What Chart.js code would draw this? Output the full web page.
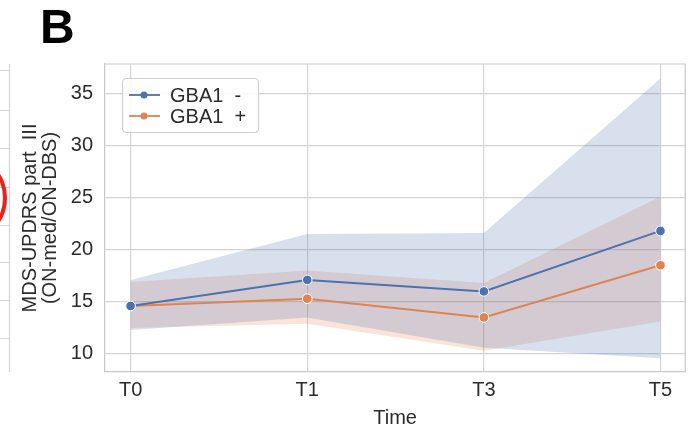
<!DOCTYPE html>
<html>
<head>
<meta charset="utf-8">
<script src="https://cdn.jsdelivr.net/npm/chart.js@4.4.1/dist/chart.umd.min.js"></script>
<style>
  html, body { margin: 0; padding: 0; background: #ffffff; }
  #wrap { width: 691px; height: 430px; position: relative; }
</style>
</head>
<body>
<div id="wrap"><canvas id="chart"></canvas></div>
<script>
/* ---------- data ---------- */
const timePoints = ['T0', 'T1', 'T3', 'T5'];

const gbaNegMean = [14.6, 17.1, 16.0, 21.8];
const gbaNegLow  = [12.3, 13.5, 10.6, 9.6];
const gbaNegHigh = [17.1, 21.5, 21.6, 36.4];

const gbaPosMean = [14.6, 15.3, 13.5, 18.5];
const gbaPosLow  = [12.5, 12.9, 10.3, 13.1];
const gbaPosHigh = [16.9, 18.0, 16.8, 25.1];

const yTicks = [10, 15, 20, 25, 30, 35];

/* ---------- style ---------- */
const FONT = '"Liberation Sans", Arial, sans-serif';
const TEXT = '#2b2b2b';
const BLUE = '#4c72b0';
const ORANGE = '#dd8452';
const GRID = '#d4d4d4';
const FRAME = '#c9c9c9';

const toXY = arr => arr.map((y, i) => ({ x: i, y }));

function lineSet(label, values, color) {
  return {
    label,
    data: toXY(values),
    borderColor: color,
    backgroundColor: color,
    borderWidth: 2,
    pointRadius: 4.8,
    pointBorderColor: '#ffffff',
    pointBorderWidth: 1,
    fill: false,
    tension: 0,
    isLegend: true
  };
}

function bandSet(values, fillColor, target) {
  return {
    data: toXY(values),
    borderWidth: 0,
    pointRadius: 0,
    borderColor: 'rgba(0,0,0,0)',
    backgroundColor: fillColor,
    fill: target === null ? false : { target },
    tension: 0
  };
}

const datasets = [
  lineSet('GBA1  -', gbaNegMean, BLUE),
  lineSet('GBA1  +', gbaPosMean, ORANGE),
  bandSet(gbaNegHigh, 'rgba(76,114,176,0.22)', 3),
  bandSet(gbaNegLow, 'rgba(0,0,0,0)', null),
  bandSet(gbaPosHigh, 'rgba(221,132,82,0.22)', 5),
  bandSet(gbaPosLow, 'rgba(0,0,0,0)', null)
];

/* ---------- panel decorations, frame + legend inside the plot ---------- */
const panelDeco = {
  id: 'panelDeco',
  beforeDraw(chart) {
    const ctx = chart.ctx;
    const a = chart.chartArea;
    ctx.save();
    // fragment of neighbouring panel A
    ctx.strokeStyle = GRID;
    ctx.lineWidth = 1.2;
    ctx.beginPath();
    ctx.moveTo(9.5, a.top);
    ctx.lineTo(9.5, a.bottom);
    [70, 110, 148, 187, 225, 262, 300, 338].forEach(y => {
      ctx.moveTo(0, y + 0.5);
      ctx.lineTo(9.5, y + 0.5);
    });
    ctx.stroke();
    ctx.strokeStyle = '#e8231b';
    ctx.lineWidth = 4;
    ctx.beginPath();
    ctx.ellipse(-40, 198, 45, 44, 0, -Math.PI / 2, Math.PI / 2);
    ctx.stroke();
    // panel letter
    ctx.fillStyle = '#000000';
    ctx.font = 'bold 48px ' + FONT;
    ctx.textBaseline = 'alphabetic';
    ctx.textAlign = 'left';
    ctx.fillText('B', 40, 43);
    ctx.restore();
  },
  afterDraw(chart) {
    const ctx = chart.ctx;
    const a = chart.chartArea;
    ctx.save();
    // top and right spines
    ctx.strokeStyle = FRAME;
    ctx.lineWidth = 1.2;
    ctx.beginPath();
    ctx.moveTo(a.left, a.top);
    ctx.lineTo(a.right, a.top);
    ctx.lineTo(a.right, a.bottom);
    ctx.stroke();

    const items = chart.data.datasets.filter(d => d.isLegend);
    const bx = 122, by = 78, bw = 136, bh = 54;
    ctx.fillStyle = 'rgba(255,255,255,0.85)';
    ctx.strokeStyle = '#cfcfcf';
    ctx.beginPath();
    ctx.roundRect(bx + 0.5, by + 0.5, bw, bh, 4);
    ctx.fill();
    ctx.stroke();
    ctx.font = '20px ' + FONT;
    ctx.textBaseline = 'middle';
    items.forEach((d, i) => {
      const y = by + 17 + i * 21;
      ctx.strokeStyle = d.borderColor;
      ctx.lineWidth = 1.8;
      ctx.beginPath();
      ctx.moveTo(bx + 7, y);
      ctx.lineTo(bx + 38, y);
      ctx.stroke();
      ctx.fillStyle = d.borderColor;
      ctx.beginPath();
      ctx.arc(bx + 22, y, 3.5, 0, Math.PI * 2);
      ctx.fill();
      ctx.fillStyle = TEXT;
      ctx.fillText(d.label, bx + 48, y + 1);
    });
    ctx.restore();
  }
};

new Chart(document.getElementById('chart'), {
  type: 'line',
  data: { datasets },
  plugins: [panelDeco],
  options: {
    responsive: true,
    maintainAspectRatio: false,
    animation: false,
    layout: { padding: { top: 64, right: 3, left: 20, bottom: 0 } },
    plugins: {
      legend: { display: false },
      tooltip: { enabled: false }
    },
    scales: {
      x: {
        type: 'linear',
        min: -0.145,
        max: 3.14,
        afterBuildTicks: s => {
          s.ticks = timePoints.map((_, i) => ({ value: i }));
        },
        afterFit: s => { s.height = 58; },
        ticks: {
          callback: v => timePoints[v],
          color: TEXT,
          font: { family: FONT, size: 20 },
          padding: 6,
          maxRotation: 0,
          autoSkip: false
        },
        grid: { color: GRID, lineWidth: 1.2, drawTicks: false },
        border: { color: FRAME, width: 1.2 },
        title: {
          display: true,
          text: 'Time',
          color: TEXT,
          font: { family: FONT, size: 20 },
          padding: { top: 0, bottom: 0 }
        }
      },
      y: {
        min: 8.27,
        max: 37.8,
        afterBuildTicks: s => {
          s.ticks = yTicks.map(v => ({ value: v }));
        },
        afterFit: s => { s.width = 85; },
        ticks: {
          color: TEXT,
          font: { family: FONT, size: 20 },
          padding: 12
        },
        grid: { color: GRID, lineWidth: 1.2, drawTicks: false },
        border: { color: FRAME, width: 1.2 },
        title: {
          display: true,
          text: ['MDS-UPDRS part  III', '(ON-med/ON-DBS)'],
          color: TEXT,
          font: { family: FONT, size: 20, lineHeight: 1.0 },
          padding: { top: 0, bottom: 0 }
        }
      }
    }
  }
});
</script>
</body>
</html>
